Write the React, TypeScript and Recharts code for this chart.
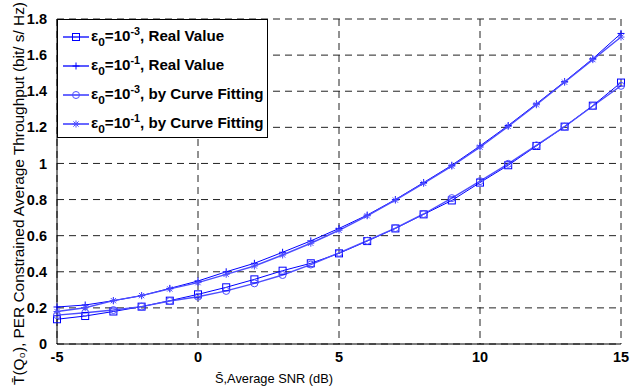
import React from "react";
import {
  LineChart,
  Line,
  XAxis,
  YAxis,
  CartesianGrid,
} from "recharts";

// SNR (dB) on the x axis
const snr = [-5, -4, -3, -2, -1, 0, 1, 2, 3, 4, 5, 6, 7, 8, 9, 10, 11, 12, 13, 14, 15];

// eps0 = 1e-3 and 1e-1, real values vs curve fitting
const real3 = [0.137, 0.155, 0.18, 0.207, 0.24, 0.275, 0.314, 0.358, 0.406, 0.447, 0.502, 0.57, 0.64, 0.718, 0.795, 0.894, 0.99, 1.097, 1.204, 1.32, 1.448];
const real1 = [0.205, 0.216, 0.24, 0.268, 0.308, 0.349, 0.4, 0.447, 0.508, 0.571, 0.64, 0.714, 0.8, 0.894, 0.99, 1.097, 1.21, 1.33, 1.453, 1.58, 1.72];
const fit3 = [0.16, 0.173, 0.188, 0.207, 0.238, 0.262, 0.294, 0.336, 0.382, 0.44, 0.505, 0.572, 0.642, 0.72, 0.808, 0.902, 0.998, 1.1, 1.204, 1.318, 1.43];
const fit1 = [0.18, 0.201, 0.24, 0.268, 0.305, 0.34, 0.386, 0.432, 0.493, 0.558, 0.63, 0.71, 0.797, 0.89, 0.985, 1.09, 1.205, 1.325, 1.45, 1.575, 1.7];

const xTicks = [-5, 0, 5, 10, 15];
const yTicks = [0, 0.2, 0.4, 0.6, 0.8, 1, 1.2, 1.4, 1.6, 1.8];

type Shape = "square" | "plus" | "circle" | "star";

interface SeriesDef {
  key: string;
  exp: string;
  text: string;
  shape: Shape;
  color: string;
  width: number;
}

const series: SeriesDef[] = [
  { key: "real3", exp: "-3", text: ", Real Value", shape: "square", color: "#0000ff", width: 1 },
  { key: "real1", exp: "-1", text: ", Real Value", shape: "plus", color: "#0000ff", width: 1 },
  { key: "fit3", exp: "-3", text: ", by Curve Fitting", shape: "circle", color: "#4d4dff", width: 1.4 },
  { key: "fit1", exp: "-1", text: ", by Curve Fitting", shape: "star", color: "#4d4dff", width: 1.4 },
];

const data = snr.map((s, i) => ({
  snr: s,
  real3: real3[i],
  real1: real1[i],
  fit3: fit3[i],
  fit1: fit1[i],
}));

const FONT = "'Liberation Sans', Arial, sans-serif";

function Marker({ cx, cy, shape, color }: { cx: number; cy: number; shape: Shape; color: string }) {
  if (cx == null || cy == null) return null;
  const r = 3.5;
  if (shape === "square")
    return <rect x={cx - r} y={cy - r} width={2 * r} height={2 * r} fill="none" stroke={color} strokeWidth={1} />;
  if (shape === "circle")
    return <circle cx={cx} cy={cy} r={r} fill="none" stroke={color} strokeWidth={1} />;
  if (shape === "plus")
    return (
      <path d={`M${cx - r},${cy}H${cx + r}M${cx},${cy - r}V${cy + r}`} stroke={color} strokeWidth={1} fill="none" />
    );
  const d = r * 0.75;
  return (
    <path
      d={`M${cx - r},${cy}H${cx + r}M${cx},${cy - r}V${cy + r}M${cx - d},${cy - d}L${cx + d},${cy + d}M${cx - d},${cy + d}L${cx + d},${cy - d}`}
      stroke={color}
      strokeWidth={1}
      fill="none"
    />
  );
}

function LegendBox() {
  return (
    <div
      style={{
        position: "absolute",
        left: 57,
        top: 19,
        background: "#fff",
        border: "1px solid #000",
        width: 211,
        height: 119,
        boxSizing: "border-box",
        padding: "2px 0 0 4px",
        fontFamily: FONT,
        fontWeight: "bold",
        fontSize: 14,
        color: "#000",
      }}
    >
      {series.map((s) => (
        <div key={s.key} style={{ display: "flex", alignItems: "center", height: 29 }}>
          <svg width={28} height={12} style={{ flex: "none" }}>
            <line x1={1} y1={6} x2={27} y2={6} stroke={s.color} strokeWidth={s.width + 0.3} />
            <Marker cx={14} cy={6} shape={s.shape} color={s.color} />
          </svg>
          <span
            style={{
              marginLeft: 1,
              whiteSpace: "nowrap",
              lineHeight: "14px",
              display: "inline-block",
              transform: "scaleX(1.08)",
              transformOrigin: "left center",
            }}
          >
            ε<sub style={{ fontSize: 11, verticalAlign: -5 }}>0</sub>=10
            <sup style={{ fontSize: 10, verticalAlign: 6 }}>{s.exp}</sup>
            {s.text}
          </span>
        </div>
      ))}
    </div>
  );
}

export default function App() {
  return (
    <div style={{ position: "absolute", left: 0, top: 0, width: 638, height: 388, background: "#fff" }}>
      <LineChart
        width={638}
        height={388}
        data={data}
        margin={{ top: 19, right: 17, bottom: 14, left: 0 }}
      >
        <CartesianGrid stroke="#222" strokeDasharray="7 5" />
        <XAxis
          dataKey="snr"
          type="number"
          domain={[-5, 15]}
          ticks={xTicks}
          interval={0}
          tickLine={false}
          axisLine={{ stroke: "#000" }}
          height={30}
          tick={{ fill: "#000", fontSize: 14.5, fontWeight: "bold", fontFamily: FONT }}
          tickMargin={2}
          label={{
            content: () => (
              <text
                x={215}
                y={383}
                textAnchor="start"
                fontSize={13.5}
                fontFamily={FONT}
                fill="#000"
                textLength={118}
                lengthAdjust="spacingAndGlyphs"
              >
                S̄,Average SNR (dB)
              </text>
            ),
          }}
        />
        <YAxis
          type="number"
          domain={[0, 1.8]}
          ticks={yTicks}
          interval={0}
          tickLine={false}
          axisLine={{ stroke: "#000" }}
          width={57}
          tick={{ fill: "#000", fontSize: 14.5, fontWeight: "bold", fontFamily: FONT }}
          tickMargin={4}
          label={{
            content: () => (
              <text
                x={0}
                y={0}
                transform="translate(24,385) rotate(-90)"
                textAnchor="start"
                fontSize={14}
                fontFamily={FONT}
                fill="#000"
                textLength={383}
                lengthAdjust="spacingAndGlyphs"
              >
                T̄(Q₀), PER Constrained Average Throughput (bit/ s/ Hz)
              </text>
            ),
          }}
        />
        {series.map((s) => (
          <Line
            key={s.key}
            dataKey={s.key}
            type="linear"
            stroke={s.color}
            strokeWidth={s.width}
            isAnimationActive={false}
            dot={(p: any) => <Marker key={`${s.key}-${p.index}`} cx={p.cx} cy={p.cy} shape={s.shape} color={s.color} />}
            activeDot={false}
          />
        ))}
      </LineChart>
      <LegendBox />
    </div>
  );
}
